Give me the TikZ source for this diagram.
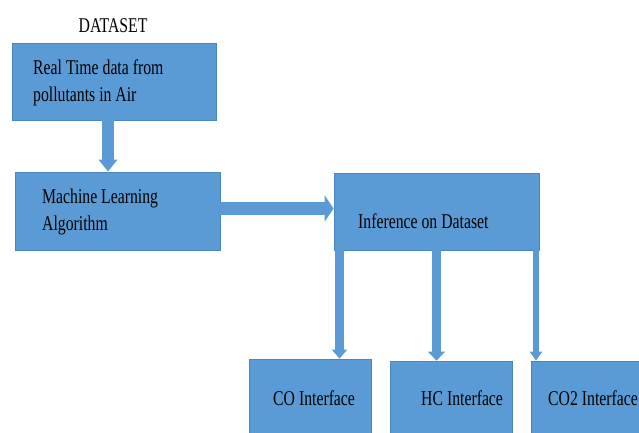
\documentclass[tikz,border=0pt]{standalone}
\usepackage{fontspec}
\setmainfont{Liberation Serif}[FakeStretch=0.75]
\usetikzlibrary{arrows.meta}
\definecolor{boxfill}{HTML}{5B9BD5}
\definecolor{boxline}{HTML}{4A87C2}
\tikzset{
  blockbox/.style={draw=boxline, line width=0.8pt, fill=boxfill, inner sep=0pt},
  lbl/.style={anchor=west, inner sep=0pt, align=left, font=\fontsize{21}{27}\selectfont},
  fatarrow/.style={draw=boxfill, line width=#1},
}
\begin{document}
\begin{tikzpicture}[x=1pt,y=-1pt]
\useasboundingbox (0,0) rectangle (639,433);
% boxes
\node[blockbox, minimum width=204pt, minimum height=77pt] (b1) at (114,81.5) {};
\node[blockbox, minimum width=205pt, minimum height=78pt] (b2) at (117.5,211) {};
\node[blockbox, minimum width=205pt, minimum height=77pt] (b3) at (436.5,211.5) {};
\node[blockbox, minimum width=122pt, minimum height=100pt] (co) at (310,409) {};
\node[blockbox, minimum width=122pt, minimum height=100pt] (hc) at (451,411) {};
\node[blockbox, minimum width=130pt, minimum height=100pt] (co2) at (596,411) {};
% texts
\node[lbl, anchor=center] (ds) at (113,26) {DATASET};
\node[lbl] (t1) at (33,83) {Real Time data from\\pollutants in Air};
\node[lbl] (t2) at (42,212) {Machine Learning\\Algorithm};
\node[lbl] (t3) at (358,221) {Inference on Dataset};
\node[lbl] (t4) at (273,398) {CO Interface};
\node[lbl] (t5) at (421,398) {HC Interface};
\node[lbl] (t6) at (548,398) {CO2 Interface};
% connector guide coordinates
\coordinate (x1) at (108,0);
\coordinate (y2) at (0,208.5);
\coordinate (xa) at (339.5,0);
\coordinate (xb) at (436.5,0);
\coordinate (xc) at (536,0);
% arrows
\draw[fatarrow=12pt, -{Triangle[width=18pt,length=12pt,fill=boxfill,color=boxfill]}]
  (b1.south -| x1) -- (b2.north -| x1);
\draw[fatarrow=13pt, -{Triangle[width=26pt,length=9pt,fill=boxfill,color=boxfill]}]
  (b2.east |- y2) -- (b3.west |- y2);
\draw[fatarrow=9pt, -{Triangle[width=15pt,length=9pt,fill=boxfill,color=boxfill]}]
  (b3.south -| xa) -- (co.north -| xa);
\draw[fatarrow=9pt, -{Triangle[width=17pt,length=9pt,fill=boxfill,color=boxfill]}]
  (b3.south -| xb) -- (hc.north -| xb);
\draw[fatarrow=6pt, -{Triangle[width=12pt,length=9pt,fill=boxfill,color=boxfill]}]
  (b3.south -| xc) -- (co2.north -| xc);
\end{tikzpicture}
\end{document}
